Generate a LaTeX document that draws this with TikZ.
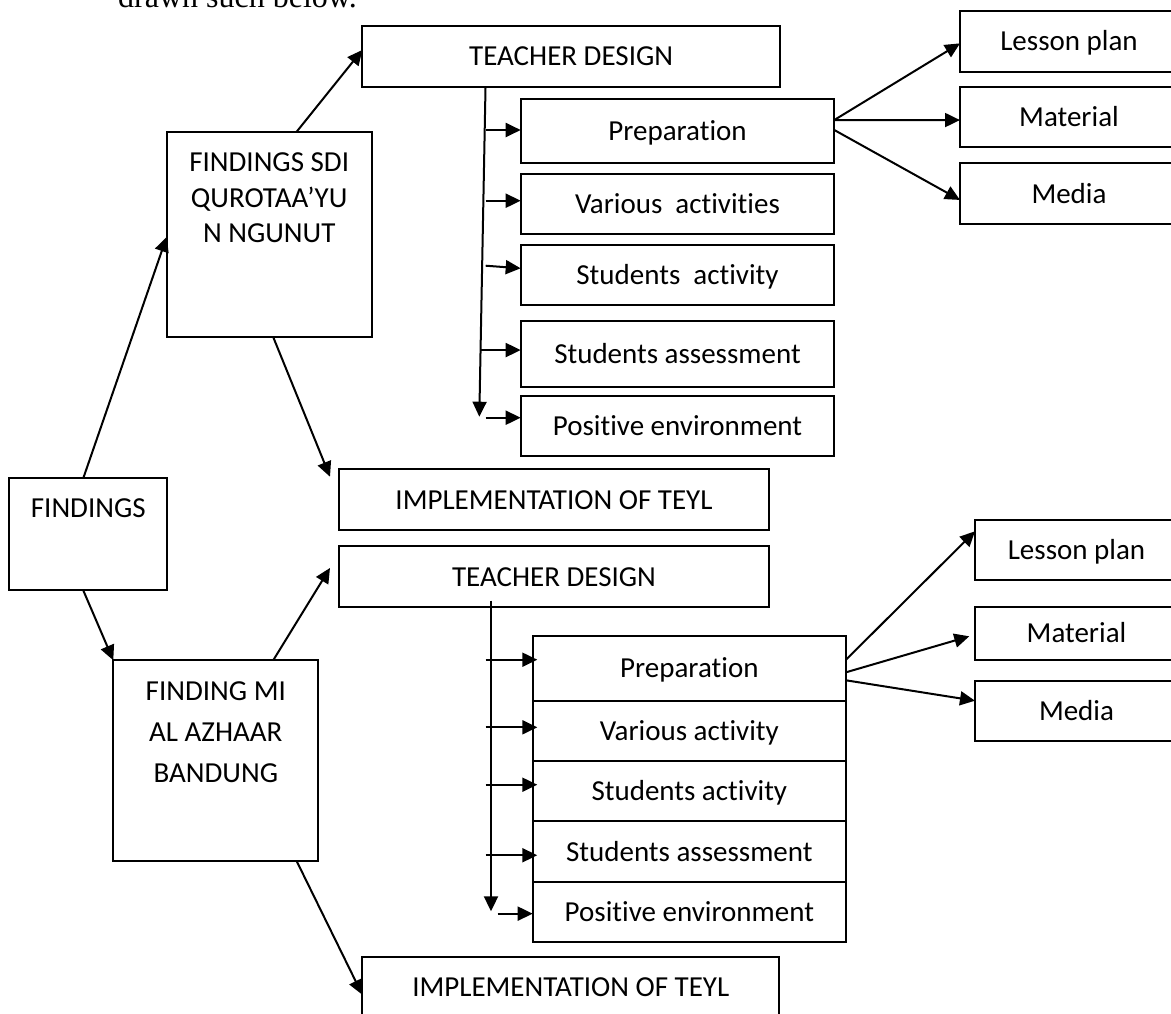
\documentclass[tikz,border=0pt]{standalone}
\usepackage{fontspec}
\setmainfont{Carlito}[Ligatures=NoCommon]
\newfontfamily\proseserif{Liberation Serif}
\usetikzlibrary{arrows.meta,calc}
\begin{document}
\begin{tikzpicture}[x=1pt,y=-1pt,
  box/.style={draw, line width=2pt, inner sep=0pt, outer sep=0pt, anchor=north west,
    text height=18.7pt, text depth=0pt, font=\fontsize{29}{35.5}\selectfont},
  toptext/.style={anchor=north, inner sep=0pt, outer sep=0pt, align=center,
    font=\fontsize{29}{35.5}\selectfont},
  arr/.style={line width=2pt, -{Triangle[length=15pt,width=14pt]}}]
\useasboundingbox (0,0) rectangle (1171,1013);
\fill[white] (0,0) rectangle (1171,1013);
\clip (0,0) rectangle (1171,1013);

% running text above the figure
\node[anchor=base west, inner sep=0pt, font=\proseserif\fontsize{32}{38}\selectfont] (prose) at (118,7) {drawn such below.};

% root
\node[box, minimum width=158pt, minimum height=112pt] (find) at (9.3,478.3) {};
\node[toptext] (findtxt) at ($(find.north)+(0,20)$) {FINDINGS};

% ---- first school ----
\node[box, minimum width=205pt, minimum height=205.6pt] (sdi) at (166.7,131.7) {};
\node[toptext] (sditxt) at ($(sdi.north)+(0,21)$) {FINDINGS SDI\\QUROTAA’YU\\N NGUNUT};

\node[box, minimum width=417.7pt, minimum height=60.7pt] (td1) at (362.3,26) {TEACHER DESIGN};
\node[box, minimum width=430pt, minimum height=61pt] (imp1) at (339,469.3) {IMPLEMENTATION OF TEYL};

\node[box, minimum width=313.6pt, minimum height=64.6pt] (prep1) at (520.7,98.7) {Preparation};
\node[box, minimum width=313.6pt, minimum height=60.6pt] (var1) at (520.7,173.7) {Various~~activities};
\node[box, minimum width=313.6pt, minimum height=60pt] (sact1) at (520.7,245) {Students~~activity};
\node[box, minimum width=313.6pt, minimum height=65.7pt] (sass1) at (520.7,321) {Students assessment};
\node[box, minimum width=313.6pt, minimum height=60pt] (pos1) at (520.7,395.7) {Positive environment};

\node[box, minimum width=218pt, minimum height=60.7pt] (lp1) at (960,11) {Lesson plan};
\node[box, minimum width=218pt, minimum height=60.3pt] (mat1) at (960,86.7) {Material};
\node[box, minimum width=218pt, minimum height=60.7pt] (med1) at (960,163.3) {Media};

% ---- second school ----
\node[box, minimum width=205pt, minimum height=201pt] (mi) at (113.3,660.3) {};
\node[toptext, font=\fontsize{29}{41}\selectfont] (mitxt) at ($(mi.north)+(0,21)$) {FINDING MI\\AL AZHAAR\\BANDUNG};

\node[box, minimum width=430pt, minimum height=60.7pt] (td2) at (339,546.3) {TEACHER DESIGN};
\node[box, minimum width=417pt, minimum height=59.4pt] (imp2) at (362.3,957.3) {IMPLEMENTATION OF TEYL};

\node[box, minimum width=313.3pt, minimum height=65pt] (prep2) at (532.7,635.7) {Preparation};
\node[box, minimum width=313.3pt, minimum height=60pt] (var2) at (532.7,700.7) {Various activity};
\node[box, minimum width=313.3pt, minimum height=60.6pt] (sact2) at (532.7,760.7) {Students activity};
\node[box, minimum width=313.3pt, minimum height=60.7pt] (sass2) at (532.7,821.3) {Students assessment};
\node[box, minimum width=313.3pt, minimum height=60.3pt] (pos2) at (532.7,882) {Positive environment};

\node[box, minimum width=203pt, minimum height=60.6pt] (lp2) at (975,519.7) {Lesson plan};
\node[box, minimum width=203pt, minimum height=52.7pt] (mat2) at (975,607) {Material};
\node[box, minimum width=203pt, minimum height=60pt] (med2) at (975,680.7) {Media};

% ---- connectors from the root and the schools ----
\draw[arr] ($(find.north west)!0.468!(find.north east)$) -- ($(sdi.north west)!0.511!(sdi.south west)$);
\draw[arr] ($(find.south west)!0.468!(find.south east)$) -- (mi.north west);
\draw[arr] ($(sdi.north west)!0.634!(sdi.north east)$) -- ($(td1.north west)!0.395!(td1.south west)$);
\draw[arr] ($(sdi.south west)!0.52!(sdi.south east)$) -- ($(imp1.north west)+(-9,7.4)$);
\draw[arr] ($(mi.north west)!0.78!(mi.north east)$) -- ($(td2.west)+(-9,-8.7)$);
\draw[arr] ($(mi.south west)!0.895!(mi.south east)$) -- ($(imp2.north west)+(0,37.4)$);

% ---- first design tree ----
\coordinate (trunkA) at (479.3,416.7);
\draw[arr] ($(td1.south west)!0.295!(td1.south east)$) -- (trunkA);
\draw[arr] ($(prep1.west)+(-35,-1)$) -- ($(prep1.west)+(0,-1)$);
\draw[arr] ($(var1.west)+(-35,-3.3)$) -- ($(var1.west)+(0,-3.3)$);
\draw[arr] ($(sact1.west)+(-35,-9.3)$) -- ($(sact1.west)+(0,-6.7)$);
\draw[arr] ($(sass1.west)+(-40,-3.8)$) -- ($(sass1.west)+(0,-3.8)$);
\draw[arr] ($(pos1.west)+(-35,-8)$) -- ($(pos1.west)+(0,-8)$);

\draw[arr] ($(prep1.east)+(0,-11)$) -- ($(lp1.west)+(0,2)$);
\draw[arr] ($(prep1.east)+(0,-11)$) -- ($(mat1.west)+(0,3.2)$);
\draw[arr] ($(prep1.east)+(0,-1)$) -- ($(med1.west)+(0,6.3)$);

% ---- second design tree ----
\coordinate (trunkB) at (491,911.3);
\draw[arr] ($(td2.south west)+(152,-6.3)$) -- (trunkB);
\draw[arr] ($(prep2.west)+(-47,-8.5)$) -- ($(prep2.west)+(4.6,-8.5)$);
\draw[arr] ($(var2.west)+(-47,-3.4)$) -- ($(var2.west)+(4.6,-3.4)$);
\draw[arr] ($(sact2.west)+(-47,-6.3)$) -- ($(sact2.west)+(4.6,-6.3)$);
\draw[arr] ($(sass2.west)+(-47,3.6)$) -- ($(sass2.west)+(4.6,3.6)$);
\draw[arr] ($(pos2.west)+(-35,1.5)$) -- ($(pos2.west)+(0,1.5)$);

\draw[arr] ($(prep2.east)+(0,-8.5)$) -- ($(lp2.west)+(0,-18.7)$);
\draw[arr] ($(prep2.east)+(0,4.1)$) -- ($(mat2.west)+(-5.7,2.95)$);
\draw[arr] ($(prep2.east)+(0,12.1)$) -- ($(med2.west)+(0,-10)$);
\end{tikzpicture}
\end{document}
